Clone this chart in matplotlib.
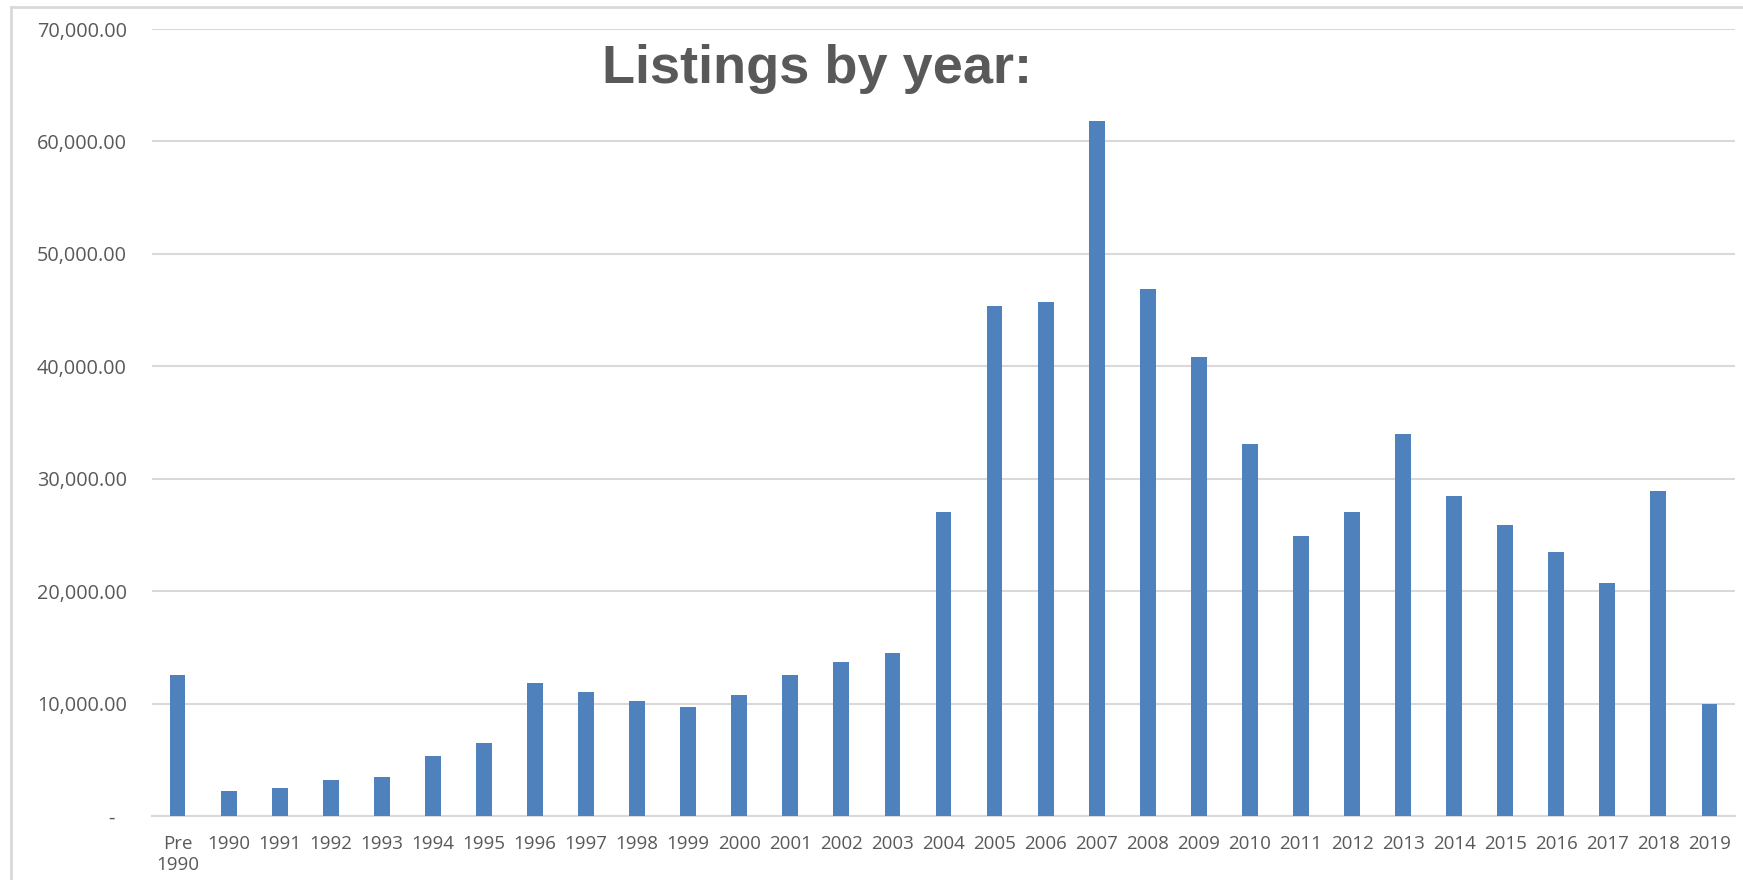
import matplotlib
matplotlib.use("Agg")
import matplotlib.pyplot as plt
from matplotlib.lines import Line2D
from matplotlib.ticker import FuncFormatter

# listings per year
years = ["Pre\n1990", "1990", "1991", "1992", "1993", "1994", "1995",
         "1996", "1997", "1998", "1999", "2000", "2001", "2002", "2003",
         "2004", "2005", "2006", "2007", "2008", "2009", "2010", "2011",
         "2012", "2013", "2014", "2015", "2016", "2017", "2018", "2019"]
listings = [12500, 2200, 2500, 3200, 3500, 5300, 6500,
            11800, 11000, 10200, 9700, 10800, 12500, 13700, 14500,
            27000, 45400, 45700, 61800, 46900, 40800, 33100, 24900,
            27000, 34000, 28500, 25900, 23500, 20700, 28900, 9950]
yticks = [0, 10000, 20000, 30000, 40000, 50000, 60000, 70000]

text_grey = "#595959"
grid_grey = "#d9d9d9"

fig = plt.figure(figsize=(17.43, 8.8), dpi=100)
ax = fig.add_axes([0.0872, 0.0727, 0.9954 - 0.0872, 0.967 - 0.0727])

x = range(len(years))
ax.bar(x, listings, width=0.31, color="#4F81BD", zorder=3)

ax.set_xlim(-0.5, len(years) - 0.5)
ax.set_ylim(0, 70000)
ax.set_yticks(yticks)
ax.yaxis.set_major_formatter(FuncFormatter(lambda v, p: "-" if v == 0 else f"{v:,.2f}"))
ax.set_xticks(list(x))
ax.set_xticklabels(years, multialignment="center")

ax.grid(axis="y", color=grid_grey, linewidth=1.5, zorder=0)
for s in ["top", "right", "left"]:
    ax.spines[s].set_visible(False)
ax.spines["bottom"].set_color(grid_grey)
ax.spines["bottom"].set_linewidth(1.5)

ax.tick_params(axis="both", length=0, colors=text_grey)
ax.tick_params(axis="y", pad=18, labelsize=14.3)
ax.tick_params(axis="x", pad=14, labelsize=13.5)
for lbl in ax.get_xticklabels() + ax.get_yticklabels():
    lbl.set_family("Open Sans")
# the zero label sits further left, like excel's accounting format
ax.yaxis.get_major_ticks()[0].set_pad(27)

fig.text(0.469, 0.9057, "Listings by year:", ha="center", va="baseline",
         fontsize=39, fontweight="bold", color=text_grey, family="Liberation Sans")

# chart area border
fig.add_artist(Line2D([11 / 1743, 1.0], [1 - 7 / 880, 1 - 7 / 880],
                      transform=fig.transFigure, color=grid_grey, linewidth=2))
fig.add_artist(Line2D([11 / 1743, 11 / 1743], [0.0, 1 - 7 / 880],
                      transform=fig.transFigure, color=grid_grey, linewidth=2))

fig.savefig("out.png", dpi=100)
